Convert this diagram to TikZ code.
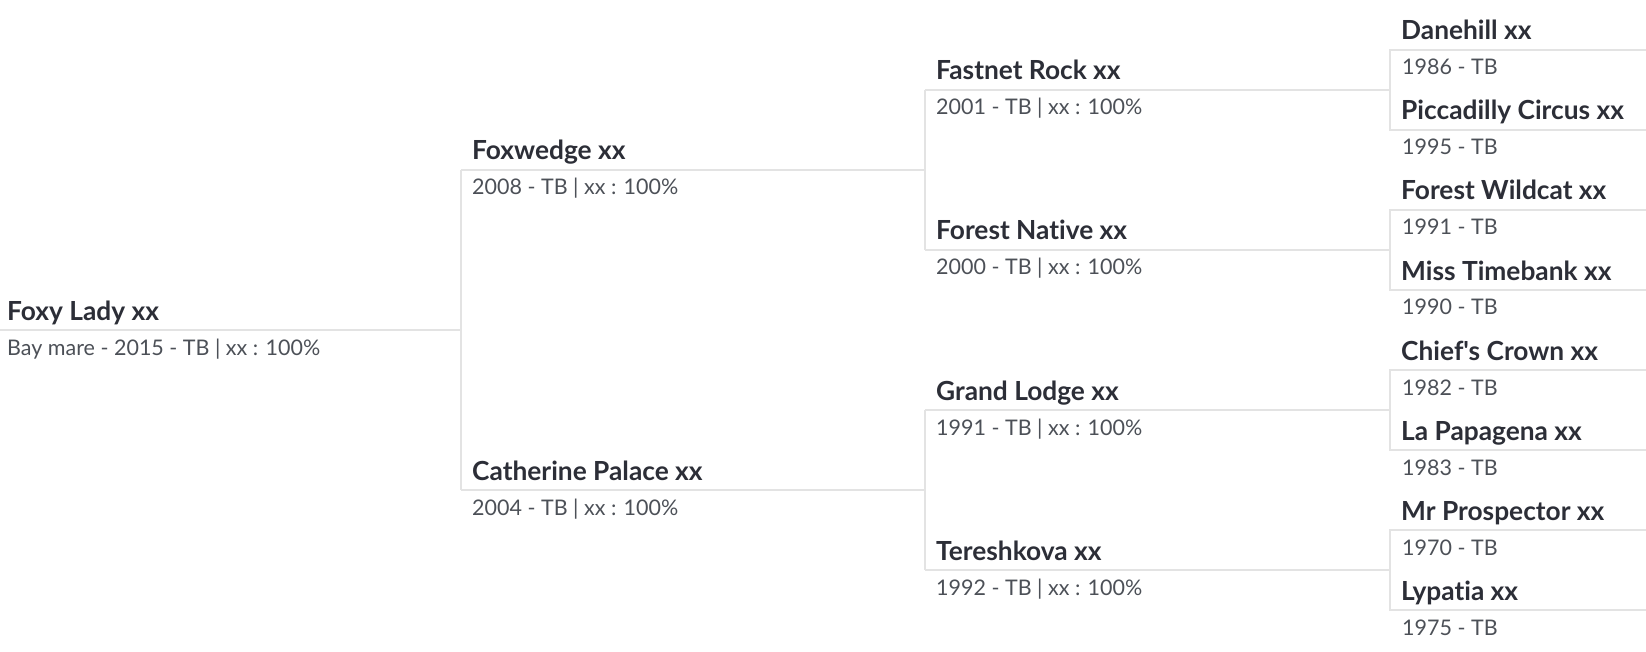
\documentclass[tikz,border=0pt]{standalone}
\usepackage{fontspec}
\setmainfont{Lato}[Ligatures={TeXOff,NoCommon,NoRare,NoDiscretionary},RawFeature={-liga;-dlig}]
\definecolor{linegray}{HTML}{E3E3E3}
\definecolor{namecol}{HTML}{2C2E37}
\definecolor{subcol}{HTML}{4C5057}
\tikzset{
  nm/.style={anchor=base west, inner sep=0pt, font=\fontsize{26.3}{30}\selectfont\bfseries, text=namecol},
  sb/.style={anchor=base west, inner sep=0pt, font=\fontsize{21.5}{25}\selectfont, text=subcol},
  ln/.style={draw=linegray, line width=2pt},
}
\begin{document}
\begin{tikzpicture}[x=1pt,y=-1pt]
\useasboundingbox (0,0) rectangle (1646,652);
% coordinates
\coordinate (r0) at (0,330);
\coordinate (j1) at (461,330);
\coordinate (j1a) at (461,170);
\coordinate (j1b) at (461,490);
\coordinate (j2a) at (925,170);
\coordinate (j2b) at (925,490);
\coordinate (j2aa) at (925,90);
\coordinate (j2ab) at (925,250);
\coordinate (j2ba) at (925,410);
\coordinate (j2bb) at (925,570);
\foreach \T/\n in {50/1,210/2,370/3,530/4}{
  \coordinate (bl\n) at (1390,\T+40);
  \coordinate (bt\n) at (1390,\T);
  \coordinate (bb\n) at (1390,\T+80);
  \coordinate (et\n) at (1646,\T);
  \coordinate (eb\n) at (1646,\T+80);
}
% lines
\draw[ln] (r0) -- (j1);
\draw[ln] (j1a) -- (j1b);
\draw[ln] (j1a) -- (j2a);
\draw[ln] (j1b) -- (j2b);
\draw[ln] (j2aa) -- (j2ab);
\draw[ln] (j2ba) -- (j2bb);
\draw[ln] (j2aa) -- (bl1);
\draw[ln] (j2ab) -- (bl2);
\draw[ln] (j2ba) -- (bl3);
\draw[ln] (j2bb) -- (bl4);
\foreach \n in {1,2,3,4}{
  \draw[ln] (et\n) -- (bt\n) -- (bb\n) -- (eb\n);
}
% texts
\node[nm] (n0) at (7,320) {Foxy Lady xx};
\node[sb] (s0) at (7,355) {Bay mare - 2015 - TB | xx : 100\%};
\node[nm] (n1) at (472,160) {Foxwedge xx};
\node[sb] (s1) at (472,195) {2008 - TB | xx : 100\%};
\node[nm] (n2) at (472,480) {Catherine Palace xx};
\node[sb] (s2) at (472,515) {2004 - TB | xx : 100\%};
\node[nm] (n3) at (936,80) {Fastnet Rock xx};
\node[sb] (s3) at (936,115) {2001 - TB | xx : 100\%};
\node[nm] (n4) at (936,240) {Forest Native xx};
\node[sb] (s4) at (936,275) {2000 - TB | xx : 100\%};
\node[nm] (n5) at (936,400) {Grand Lodge xx};
\node[sb] (s5) at (936,435) {1991 - TB | xx : 100\%};
\node[nm] (n6) at (936,560) {Tereshkova xx};
\node[sb] (s6) at (936,595) {1992 - TB | xx : 100\%};
\node[nm] (n7) at (1401,40) {Danehill xx};
\node[sb] (s7) at (1402,75) {1986 - TB};
\node[nm] (n8) at (1401,120) {Piccadilly Circus xx};
\node[sb] (s8) at (1402,155) {1995 - TB};
\node[nm] (n9) at (1401,200) {Forest Wildcat xx};
\node[sb] (s9) at (1402,235) {1991 - TB};
\node[nm] (n10) at (1401,280) {Miss Timebank xx};
\node[sb] (s10) at (1402,315) {1990 - TB};
\node[nm] (n11) at (1401,360) {Chief's Crown xx};
\node[sb] (s11) at (1402,395) {1982 - TB};
\node[nm] (n12) at (1401,440) {La Papagena xx};
\node[sb] (s12) at (1402,475) {1983 - TB};
\node[nm] (n13) at (1401,520) {Mr Prospector xx};
\node[sb] (s13) at (1402,555) {1970 - TB};
\node[nm] (n14) at (1401,600) {Lypatia xx};
\node[sb] (s14) at (1402,635) {1975 - TB};
\end{tikzpicture}
\end{document}
